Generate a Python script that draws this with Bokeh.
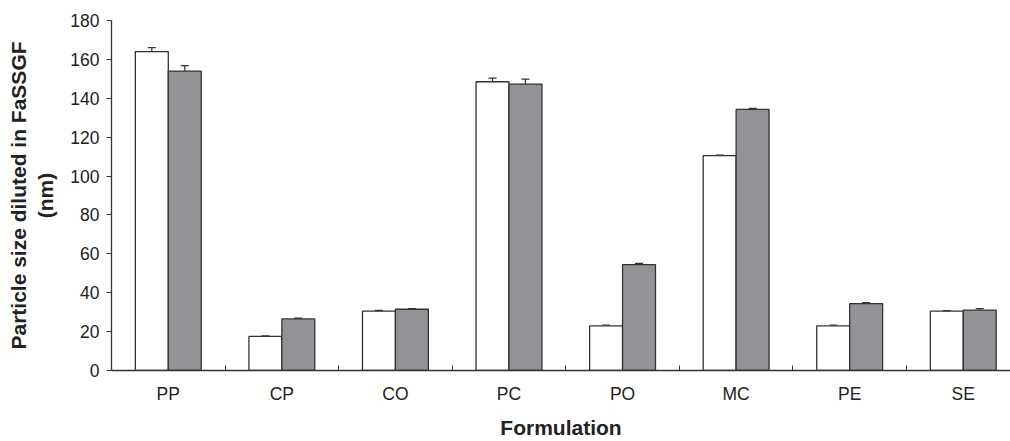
from bokeh.plotting import figure
from bokeh.models import ColumnDataSource, FixedTicker, Whisker, TeeHead, Range1d
from bokeh.embed import file_html
from bokeh.resources import INLINE

categories = ["PP", "CP", "CO", "PC", "PO", "MC", "PE", "SE"]
series_a = [164.0, 17.5, 30.5, 148.5, 23.0, 110.5, 23.0, 30.5]
series_a_err = [2.0, 0.3, 0.4, 1.9, 0.4, 0.3, 0.4, 0.3]
series_b = [154.0, 26.5, 31.5, 147.3, 54.5, 134.3, 34.4, 31.0]
series_b_err = [2.8, 0.4, 0.3, 2.6, 0.6, 0.5, 0.5, 0.8]
y_ticks = [0, 20, 40, 60, 80, 100, 120, 140, 160, 180]

bar_w = 0.29
off = bar_w / 2
xc = [i + 0.5 for i in range(len(categories))]

src_a = ColumnDataSource(dict(x=[c - off for c in xc], top=series_a,
                              lo=[v - e for v, e in zip(series_a, series_a_err)],
                              hi=[v + e for v, e in zip(series_a, series_a_err)]))
src_b = ColumnDataSource(dict(x=[c + off for c in xc], top=series_b,
                              lo=[v - e for v, e in zip(series_b, series_b_err)],
                              hi=[v + e for v, e in zip(series_b, series_b_err)]))

p = figure(width=1010, height=441, output_backend="svg", toolbar_location=None,
           x_range=Range1d(0, 7.916), y_range=Range1d(0, 180))
p.min_border_left = 111
p.min_border_right = 0
p.min_border_top = 20
p.min_border_bottom = 70
p.outline_line_color = None
p.grid.visible = False

p.vbar(x="x", top="top", width=bar_w, source=src_a, fill_color="white",
       line_color="#333333", line_width=1.3)
p.vbar(x="x", top="top", width=bar_w, source=src_b, fill_color="#929397",
       line_color="#333333", line_width=1.3)

for src in (src_a, src_b):
    w = Whisker(base="x", lower="lo", upper="hi", source=src,
                line_color="#333333", line_width=1.2,
                upper_head=TeeHead(size=8, line_color="#333333", line_width=1.2),
                lower_head=TeeHead(size=8, line_color="#333333", line_width=1.2))
    p.add_layout(w)

font = "Liberation Sans"
p.xaxis.ticker = FixedTicker(ticks=xc, minor_ticks=list(range(1, len(categories))))
p.xaxis.major_label_overrides = {c: lab for c, lab in zip(xc, categories)}
p.xaxis.major_tick_in = 0
p.xaxis.major_tick_out = 0
p.xaxis.minor_tick_in = 5
p.xaxis.minor_tick_out = 0
p.xaxis.minor_tick_line_color = "#333333"
p.xaxis.major_label_standoff = 13
p.xaxis.axis_label = "Formulation"
p.xaxis.axis_label_standoff = 9

p.yaxis.ticker = FixedTicker(ticks=y_ticks)
p.yaxis.minor_tick_line_color = None
p.yaxis.major_tick_in = 0
p.yaxis.major_tick_out = 5
p.yaxis.major_label_standoff = 7
p.yaxis.axis_label = "Particle size diluted in FaSSGF\n(nm)"
p.yaxis.axis_label_standoff = 10

for ax in (p.xaxis, p.yaxis):
    ax.axis_line_color = "#333333"
    ax.axis_line_width = 1.3
    ax.major_tick_line_color = "#333333"
    ax.major_label_text_font = font
    ax.major_label_text_font_size = "17.5px"
    ax.major_label_text_color = "#222222"
    ax.axis_label_text_font = font
    ax.axis_label_text_font_size = "21px"
    ax.axis_label_text_font_style = "bold"
    ax.axis_label_text_color = "#222222"

open("out.html", "w").write(file_html(p, INLINE))
